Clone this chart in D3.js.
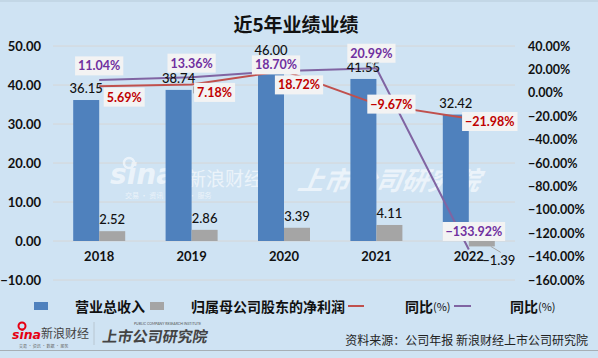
<!DOCTYPE html>
<html><head><meta charset="utf-8">
<script src="https://cdn.jsdelivr.net/npm/d3@7/dist/d3.min.js"></script>
<style>
html,body{margin:0;padding:0;background:#cfe3f3;}
svg{display:block;}
</style></head>
<body>
<svg id="chart" width="598" height="358"></svg>
<script>
// ---- data ----
const years = ["2018", "2019", "2020", "2021", "2022"];
const revenue = [36.15, 38.74, 46.00, 41.55, 32.42];        // 营业总收入
const netProfit = [2.52, 2.86, 3.39, 4.11, -1.39];          // 归属母公司股东的净利润
const revenueYoY = [5.69, 7.18, 18.72, -9.67, -21.98];      // 同比(%) red
const profitYoY = [11.04, 13.36, 18.70, 20.99, -133.92];    // 同比(%) purple
const leftTicks = [-10, 0, 10, 20, 30, 40, 50];
const rightTicks = [-160, -140, -120, -100, -80, -60, -40, -20, 0, 20, 40];
const legendLabels = ["营业总收入", "归属母公司股东的净利润", "同比", "同比"];

// label offsets (px) relative to each point
const redOff = [[25, 11], [23, 8], [15, 14], [15, 0], [21, 3]];
const purOff = [[0, -14], [0, -14], [-8, -6], [-5, -15], [5, -18]];

const svg = d3.select("#chart");
const W = 598, H = 358;
const BG = "#cfe3f3";
const FONT = "Lato, 'Noto Sans', sans-serif";
const CJK = "'Noto Sans CJK SC', 'Noto Sans', sans-serif";

svg.append("rect").attr("width", W).attr("height", H).attr("fill", BG);
svg.append("rect").attr("width", W).attr("height", 2).attr("fill", "#c3d7e6");

// title
svg.append("text").attr("x", 296).attr("y", 23)
  .attr("text-anchor", "middle").attr("dominant-baseline", "central")
  .attr("font-family", CJK).attr("font-weight", 700).attr("font-size", 19)
  .attr("fill", "#111").text("近5年业绩业绩");

const plotL = 53, plotR = 515;
const x = d3.scaleBand().domain(years).range([plotL, plotR]).padding(0);
const sub = d3.scaleBand().domain(["rev", "np"]).range([-26, 26]).padding(0);
const yL = d3.scaleLinear().domain([-10, 50]).range([280, 46]);
const yR = d3.scaleLinear().domain([-160, 40]).range([280, 46]);
const cx = d => x(d) + x.bandwidth() / 2;

// gridlines
svg.append("g").selectAll("line").data(leftTicks).join("line")
  .attr("x1", plotL).attr("x2", plotR)
  .attr("y1", d => yL(d)).attr("y2", d => yL(d))
  .attr("stroke", "#d6d6d6").attr("stroke-width", 1);

// watermark
const wm = svg.append("g").attr("fill", "#ffffff").attr("opacity", 0.6);
wm.append("text").attr("x", 110).attr("y", 184).attr("font-family", "'DejaVu Sans', sans-serif")
  .attr("font-style", "italic").attr("font-weight", 700).attr("font-size", 28).text("sina");
wm.append("circle").attr("cx", 129).attr("cy", 163).attr("r", 5).attr("fill", "none")
  .attr("stroke", "#fff").attr("stroke-width", 2.5);
wm.append("text").attr("x", 187).attr("y", 186).attr("font-family", CJK)
  .attr("font-size", 19).text("新浪财经");
wm.append("text").attr("x", 125).attr("y", 198).attr("font-family", CJK)
  .attr("font-size", 7).text("交易 · 资讯 · 数据 · 服务");
wm.append("text").attr("x", 297).attr("y", 190).attr("font-family", CJK)
  .attr("font-style", "italic").attr("font-weight", 700).attr("font-size", 26)
  .attr("transform", "skewX(-10) translate(33,0)").text("上市公司研究院");

// bars
const bars = svg.append("g");
bars.selectAll("rect.rev").data(years).join("rect").attr("class", "rev")
  .attr("x", (d) => cx(d) + sub("rev")).attr("width", sub.bandwidth())
  .attr("y", (d, i) => Math.min(yL(revenue[i]), yL(0)))
  .attr("height", (d, i) => Math.abs(yL(revenue[i]) - yL(0)))
  .attr("fill", "#4f81bd");
bars.selectAll("rect.np").data(years).join("rect").attr("class", "np")
  .attr("x", (d) => cx(d) + sub("np")).attr("width", sub.bandwidth())
  .attr("y", (d, i) => Math.min(yL(netProfit[i]), yL(0)))
  .attr("height", (d, i) => Math.abs(yL(netProfit[i]) - yL(0)))
  .attr("fill", "#a5a5a5");

// lines
const lineR = d3.line().x((d, i) => cx(years[i])).y(d => yR(d));
svg.append("path").datum(revenueYoY).attr("d", lineR)
  .attr("fill", "none").attr("stroke", "#c0504d").attr("stroke-width", 2);
svg.append("path").datum(profitYoY).attr("d", lineR)
  .attr("fill", "none").attr("stroke", "#8064a2").attr("stroke-width", 2);

// axes
const fmt = d3.format(".2f");
const gL = svg.append("g").attr("transform", "translate(44,0)")
  .call(d3.axisLeft(yL).tickValues(leftTicks).tickSize(0).tickPadding(3).tickFormat(fmt));
const gR = svg.append("g").attr("transform", "translate(525,0)")
  .call(d3.axisRight(yR).tickValues(rightTicks).tickSize(0).tickPadding(3).tickFormat(d => fmt(d) + "%"));
const gX = svg.append("g").attr("transform", `translate(0,${yL(0)})`)
  .call(d3.axisBottom(x).tickSize(0).tickPadding(11));
[gL, gR, gX].forEach(g => {
  g.select(".domain").remove();
  g.selectAll("text").attr("font-family", FONT).attr("font-weight", 700)
    .attr("font-size", 13).attr("fill", "#111");
});
gR.selectAll("text").attr("font-size", 12.5);

// value labels on bars
const vl = svg.append("g").attr("font-family", FONT).attr("font-size", 13)
  .attr("font-weight", 500).attr("fill", "#111").attr("text-anchor", "middle")
  .attr("dominant-baseline", "central");
vl.selectAll("text.rv").data(revenue).join("text").attr("class", "rv")
  .attr("x", (d, i) => cx(years[i]) + sub("rev") + sub.bandwidth() / 2)
  .attr("y", d => yL(d) - 12).text(d => fmt(d));
vl.selectAll("text.np").data(netProfit).join("text").attr("class", "np")
  .attr("x", (d, i) => cx(years[i]) + sub("np") + sub.bandwidth() / 2 + (d < 0 ? 17 : 0))
  .attr("y", d => d < 0 ? yL(d) + 14 : yL(d) - 12).text(d => fmt(d));
// leader for negative label
netProfit.forEach((d, i) => {
  if (d < 0) {
    const bx = cx(years[i]) + sub("np") + sub.bandwidth();
    svg.append("line").attr("x1", bx - 4).attr("y1", yL(d))
      .attr("x2", bx + 6).attr("y2", yL(d) + 6)
      .attr("stroke", "#a6a6a6").attr("stroke-width", 1);
  }
});

// percentage labels with boxes
function pctLabels(vals, offs, color) {
  const g = svg.append("g");
  vals.forEach((v, i) => {
    const px = cx(years[i]), py = yR(v);
    const tx = px + offs[i][0], ty = py + offs[i][1];
    const t = g.append("text").attr("x", tx).attr("y", ty)
      .attr("text-anchor", "middle").attr("dominant-baseline", "central")
      .attr("font-family", FONT).attr("font-weight", 700).attr("font-size", 12.5)
      .attr("fill", color).text(fmt(v) + "%");
    const bb = t.node().getBBox();
    g.insert("rect", "text").attr("x", bb.x - 3).attr("y", ty - 9.5)
      .attr("width", bb.width + 6).attr("height", 19).attr("fill", "#f3f3f3");
  });
}
// small leader lines
svg.append("line").attr("x1", cx(years[1]) + 2).attr("y1", yR(revenueYoY[1]) + 2)
  .attr("x2", cx(years[1]) + 2).attr("y2", yR(revenueYoY[1]) + 9)
  .attr("stroke", "#a6a6a6");
svg.append("line").attr("x1", cx(years[3]) - 5).attr("y1", yR(profitYoY[3]) - 6)
  .attr("x2", cx(years[3])).attr("y2", yR(profitYoY[3]))
  .attr("stroke", "#a6a6a6");
pctLabels(revenueYoY, redOff, "#c00000");
pctLabels(profitYoY, purOff, "#7030a0");

// legend
const lg = svg.append("g").attr("font-family", CJK).attr("font-weight", 700)
  .attr("font-size", 14).attr("fill", "#111");
lg.append("rect").attr("x", 34).attr("y", 302).attr("width", 14).attr("height", 8).attr("fill", "#4f81bd");
lg.append("text").attr("x", 75).attr("y", 306).attr("dominant-baseline", "central").text(legendLabels[0]);
lg.append("rect").attr("x", 150).attr("y", 302).attr("width", 14).attr("height", 8).attr("fill", "#a5a5a5");
lg.append("text").attr("x", 191).attr("y", 306).attr("dominant-baseline", "central").text(legendLabels[1]);
lg.append("line").attr("x1", 348).attr("x2", 364).attr("y1", 306).attr("y2", 306)
  .attr("stroke", "#c0504d").attr("stroke-width", 2);
const t3 = lg.append("text").attr("x", 405).attr("y", 306).attr("dominant-baseline", "central");
t3.append("tspan").text(legendLabels[2]);
t3.append("tspan").attr("font-size", 11).attr("font-weight", 400).text("(%)");
lg.append("line").attr("x1", 454).attr("x2", 471).attr("y1", 306).attr("y2", 306)
  .attr("stroke", "#8064a2").attr("stroke-width", 2);
const t4 = lg.append("text").attr("x", 510).attr("y", 306).attr("dominant-baseline", "central");
t4.append("tspan").text(legendLabels[3]);
t4.append("tspan").attr("font-size", 11).attr("font-weight", 400).text("(%)");

// footer
const ft = svg.append("g");
ft.append("circle").attr("cx", 22).attr("cy", 326).attr("r", 3.5).attr("fill", "none")
  .attr("stroke", "#e60012").attr("stroke-width", 2);
ft.append("text").attr("x", 12).attr("y", 339).attr("font-family", "'DejaVu Sans', sans-serif")
  .attr("font-style", "italic").attr("font-weight", 700).attr("font-size", 12.5)
  .attr("fill", "#e60012").text("sina");
ft.append("text").attr("x", 41).attr("y", 338).attr("font-family", CJK)
  .attr("font-size", 12).attr("fill", "#444").text("新浪财经");
ft.append("text").attr("x", 19).attr("y", 348).attr("font-family", CJK)
  .attr("font-size", 4).attr("fill", "#666").text("交易 · 资讯 · 数据 · 服务");
ft.append("line").attr("x1", 94).attr("x2", 94).attr("y1", 322).attr("y2", 345)
  .attr("stroke", "#b8c6d1").attr("stroke-width", 1);
ft.append("text").attr("x", 134).attr("y", 325).attr("font-family", FONT)
  .attr("font-size", 3.5).attr("fill", "#555").text("PUBLIC COMPANY RESEARCH INSTITUTE");
ft.append("text").attr("x", 102).attr("y", 342).attr("font-family", CJK)
  .attr("font-weight", 700).attr("font-size", 15).attr("fill", "#444")
  .attr("transform", "skewX(-10) translate(60,0)").text("上市公司研究院");
ft.append("text").attr("x", 588).attr("y", 339).attr("text-anchor", "end")
  .attr("dominant-baseline", "central").attr("font-family", CJK)
  .attr("font-size", 12).attr("fill", "#222").text("资料来源：公司年报 新浪财经上市公司研究院");
ft.append("line").attr("x1", 0).attr("x2", W).attr("y1", 350.5).attr("y2", 350.5)
  .attr("stroke", "#a6aeb5").attr("stroke-width", 1);
</script>
</body></html>
